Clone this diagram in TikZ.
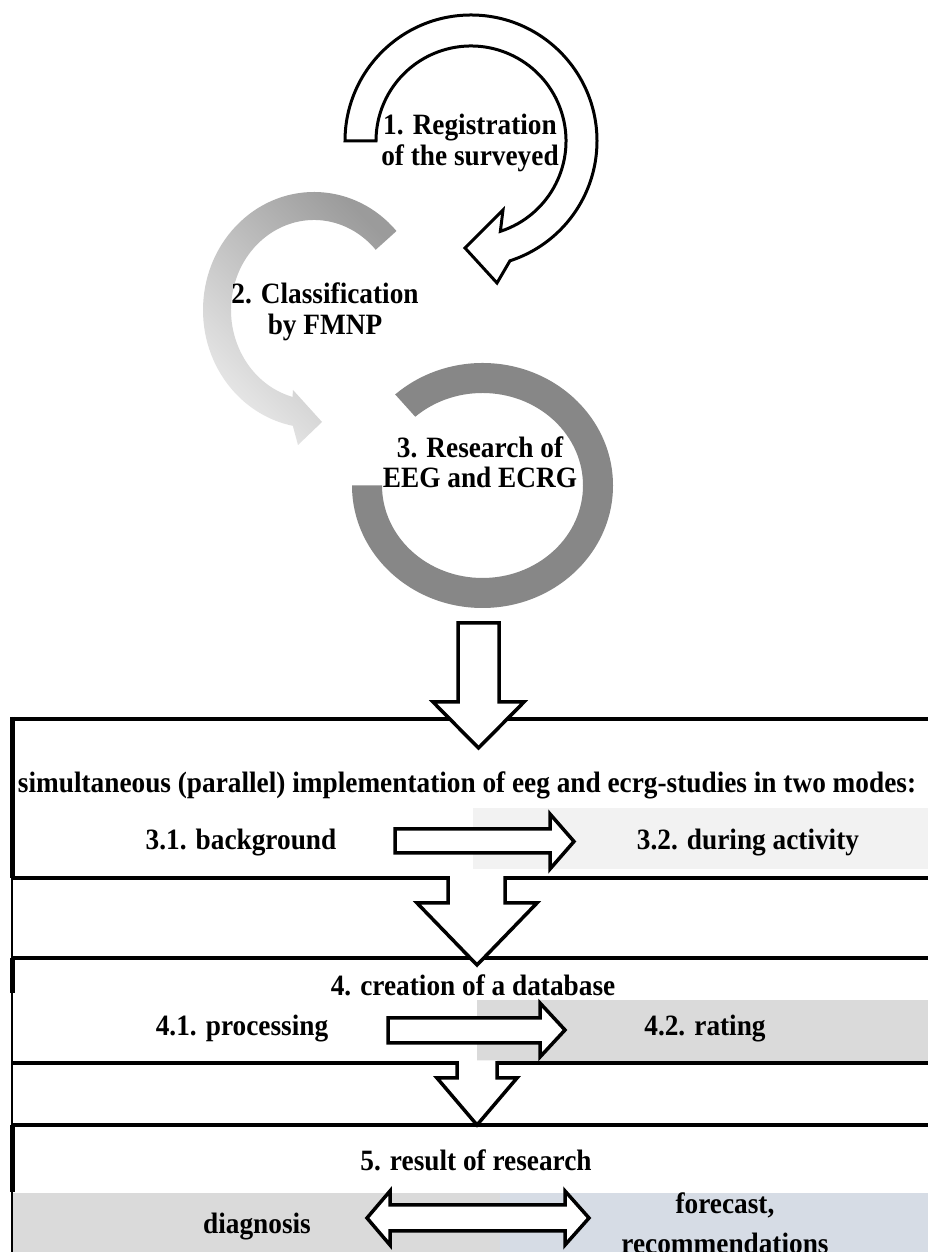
\documentclass[tikz,border=0pt]{standalone}
\usepackage{graphicx}
\usepackage{fontspec}
\setmainfont{Liberation Serif}
\usetikzlibrary{calc}
\definecolor{ringgray}{RGB}{135,135,135}
\definecolor{arcdark}{RGB}{155,155,155}
\definecolor{arclight}{RGB}{235,235,235}
\definecolor{paleg}{RGB}{242,242,242}
\definecolor{midg}{RGB}{218,218,218}
\definecolor{paleblue}{RGB}{214,220,229}
\newcommand\sqz[1]{\scalebox{0.925}[1]{#1}}
\begin{document}
\begin{tikzpicture}[x=1pt,y=1pt,
  txt/.style={font=\bfseries\fontsize{29.5}{30.5}\selectfont, inner sep=0pt, align=center},
  barrow/.style={draw=black, line width=3.5pt, fill=white, line join=miter, miter limit=10},
  openarrow/.style={draw=black, line width=3.5pt, line join=miter, miter limit=10},
  hline/.style={draw=black, line width=3.5pt}]
\useasboundingbox (0,0) rectangle (928,1252);
\fill[white] (0,0) rectangle (928,1252);

% --- cycle of steps 1-3 ---
\draw[line width=3pt, fill=white, line join=miter, miter limit=10]
  (345,1111) arc[start angle=180, end angle=-72, radius=126]
  -- (497,969) -- (465,1004) -- (503,1042)
  -- ($(471,1111)+(-72:95)$) arc[start angle=-72, end angle=180, radius=95] -- cycle;

\shade[top color=arcdark, bottom color=arclight, shading angle=-45]
  ($(314,942)+(42:111 and 118)$) arc[start angle=42, end angle=259, x radius=111, y radius=118]
  -- (298,807) -- (322,830) -- (293,862)
  -- ($(314,942)+(255:83 and 90)$) arc[start angle=255, end angle=42, x radius=83, y radius=90] -- cycle;

\fill[ringgray]
  ($(482.5,766.5)+(180:130.5 and 122.5)$) arc[start angle=180, end angle=492, x radius=130.5, y radius=122.5]
  -- ($(482.5,766.5)+(492:100.5 and 92.5)$) arc[start angle=492, end angle=180, x radius=100.5, y radius=92.5] -- cycle;

\node[txt] (reg) at (470,1109) {\sqz{1. Registration}\\\sqz{of the surveyed}};
\node[txt] (cls) at (325,940) {\sqz{2. Classification}\\\sqz{by FMNP}};
\node[txt] (res) at (480,789.5) {\sqz{3. Research of}\\\sqz{EEG and ECRG}};

% --- shaded cells ---
\fill[paleg] (473,444) rectangle (928,383);
\fill[midg] (477,252) rectangle (928,191);
\fill[midg] (12,59) rectangle (500,0);
\fill[paleblue] (500,59) rectangle (928,0);

% --- frame lines ---
\draw[hline] (12,533) -- (928,533);
\draw[hline] (12,374) -- (928,374);
\draw[hline] (12,294) -- (928,294);
\draw[hline] (12,189) -- (928,189);
\draw[hline] (12,127) -- (928,127);
\draw[line width=2pt] (12,535) -- (12,0);
\draw[line width=5pt] (12,535) -- (12,374);
\draw[line width=5pt] (12,294) -- (12,259);
\draw[line width=5pt] (12,127) -- (12,60);

% --- down arrows ---
\draw[barrow] (458,629) -- (499,629) -- (499,550) -- (524,550) -- (478.5,504) -- (433,550) -- (458,550) -- cycle;

\fill[white] (448,376.5) -- (448,349) -- (417,349) -- (477,287) -- (537,349) -- (505,349) -- (505,376.5) -- cycle;
\draw[openarrow] (448,375.75) -- (448,349) -- (417,349) -- (477,287) -- (537,349) -- (505,349) -- (505,375.75);

\fill[white] (457,191.5) -- (457,174) -- (437,174) -- (477,127) -- (517,174) -- (497,174) -- (497,191.5) -- cycle;
\draw[openarrow] (457,190.75) -- (457,174) -- (437,174) -- (477,127) -- (517,174) -- (497,174) -- (497,190.75);

% --- right arrows ---
\draw[barrow] (395,423) -- (550,423) -- (550,438) -- (574,410.5) -- (550,383) -- (550,399) -- (395,399) -- cycle;
\draw[barrow] (388,234) -- (540,234) -- (540,249) -- (565,222) -- (540,195) -- (540,209) -- (388,209) -- cycle;
\draw[barrow] (367,34) -- (390,61) -- (390,47) -- (565,47) -- (565,61) -- (589,34) -- (565,7) -- (565,21) -- (390,21) -- (390,7) -- cycle;

% --- texts ---
\node[txt] (sim) at (467,467) {\sqz{simultaneous (parallel) implementation of eeg and ecrg-studies in two modes:}};
\node[txt] (bg) at (241,409) {\sqz{3.1. background}};
\node[txt] (act) at (748,409) {\sqz{3.2. during activity}};
\node[txt] (db) at (473,267) {\sqz{4. creation of a database}};
\node[txt] (proc) at (242,223) {\sqz{4.1. processing}};
\node[txt] (rate) at (705,223) {\sqz{4.2. rating}};
\node[txt] (rslt) at (476,92) {\sqz{5. result of research}};
\node[txt] (diag) at (257,25) {\sqz{diagnosis}};
\node[txt, font=\bfseries\fontsize{29.5}{40}\selectfont] (fore) at (725,29) {\sqz{forecast,}\\\sqz{recommendations}};
\end{tikzpicture}
\end{document}
